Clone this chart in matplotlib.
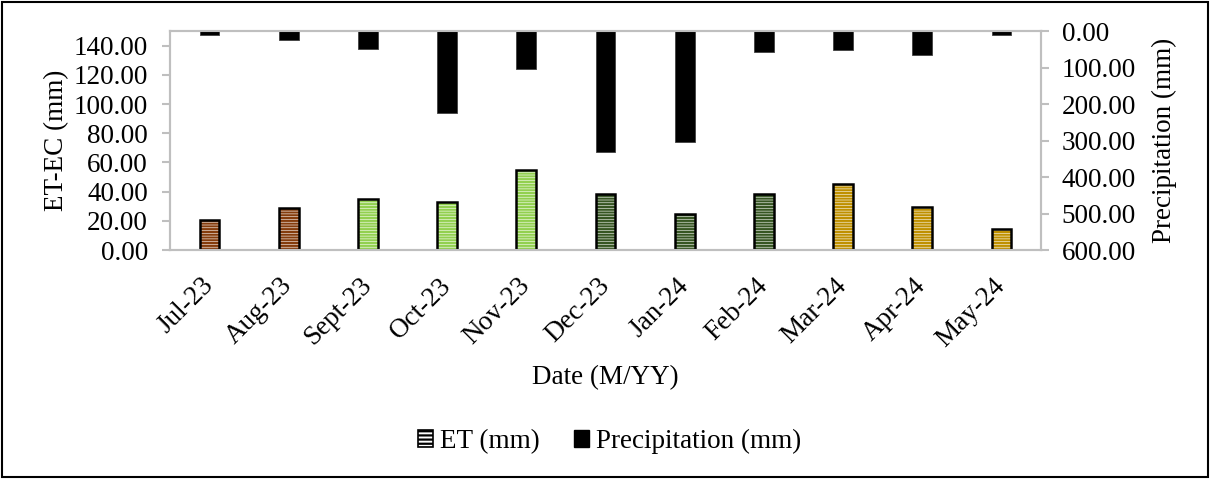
import matplotlib
matplotlib.use("Agg")
import matplotlib.pyplot as plt
import numpy as np
from matplotlib.patches import Patch, Rectangle

months = ["Jul-23", "Aug-23", "Sept-23", "Oct-23", "Nov-23", "Dec-23",
          "Jan-24", "Feb-24", "Mar-24", "Apr-24", "May-24"]
et_mm = [20.5, 28.8, 34.8, 33.0, 54.8, 38.6, 24.8, 38.4, 45.0, 29.3, 14.5]
precip_mm = [12, 25, 48, 225, 105, 332, 303, 58, 53, 66, 10]
# season colours (summer brown, autumn green, winter dark green, spring gold)
bar_colors = ["#843C0C", "#843C0C", "#92D050", "#92D050", "#92D050", "#375623",
              "#375623", "#375623", "#BF9000", "#BF9000", "#BF9000"]

plt.rcParams["font.family"] = ["Liberation Serif", "DejaVu Serif"]
plt.rcParams["hatch.linewidth"] = 1.6
FS = 19.5
GRID = "#BFBFBF"

fig = plt.figure(figsize=(12.12, 4.79), dpi=100)
ax = fig.add_axes([170 / 1212, 1 - 250 / 479, 871 / 1212, 219 / 479])
ax2 = ax.twinx()

x = np.arange(len(months))
w = 0.25

# hatched fill first, then the black outline on top
ax.bar(x, et_mm, w, color="white", edgecolor=bar_colors, hatch="------",
       linewidth=0, zorder=2)
ax.bar(x, et_mm, w, fill=False, edgecolor="black", linewidth=1.8, zorder=3)

ax2.bar(x, precip_mm, w, color="black", edgecolor="#404040", linewidth=0.6)

ax.set_xlim(-0.5, len(months) - 0.5)
ax.set_ylim(0, 150)
ax.set_yticks(np.arange(0, 141, 20))
ax.set_yticklabels([f"{v:.2f}" for v in np.arange(0, 141, 20)], fontsize=FS)
ax2.set_ylim(600, 0)
ax2.set_yticks(np.arange(0, 601, 100))
ax2.set_yticklabels([f"{v:.2f}" for v in np.arange(0, 601, 100)], fontsize=FS)

ax.set_xticks(x)
ax.set_xticklabels(months, rotation=45, ha="right", va="center",
                   rotation_mode="anchor", fontsize=FS)
ax.tick_params(axis="x", length=0, pad=23)
ax.tick_params(axis="y", color=GRID, length=6, width=1.5, pad=10)
ax2.tick_params(axis="y", color=GRID, length=6, width=1.5, pad=9)

for a in (ax, ax2):
    for s in a.spines.values():
        s.set_color(GRID)
        s.set_linewidth(1.5)

ax.set_ylabel("ET-EC (mm)", fontsize=FS)
ax.yaxis.set_label_coords(-0.116, 0.5)
ax2.set_ylabel("Precipitation (mm)", fontsize=FS)
ax2.yaxis.set_label_coords(1.1275, 0.5)
ax.set_xlabel("Date (M/YY)", fontsize=FS)
ax.xaxis.set_label_coords(0.5, -0.525)

handles = [Patch(facecolor="white", edgecolor="black", hatch="----",
                 linewidth=1.2, label="ET (mm)"),
           Patch(facecolor="black", edgecolor="black", label="Precipitation (mm)")]
fig.legend(handles=handles, loc="center", bbox_to_anchor=(0.503, 0.079),
           ncol=2, frameon=False, fontsize=FS, handlelength=0.55,
           handleheight=0.6, handletextpad=0.25, columnspacing=1.3)

fig.patches.append(Rectangle((2 / 1212, 2 / 479), 1206 / 1212, 475 / 479,
                             transform=fig.transFigure, fill=False,
                             edgecolor="black", linewidth=1.5))

fig.savefig("out.png", dpi=100)
